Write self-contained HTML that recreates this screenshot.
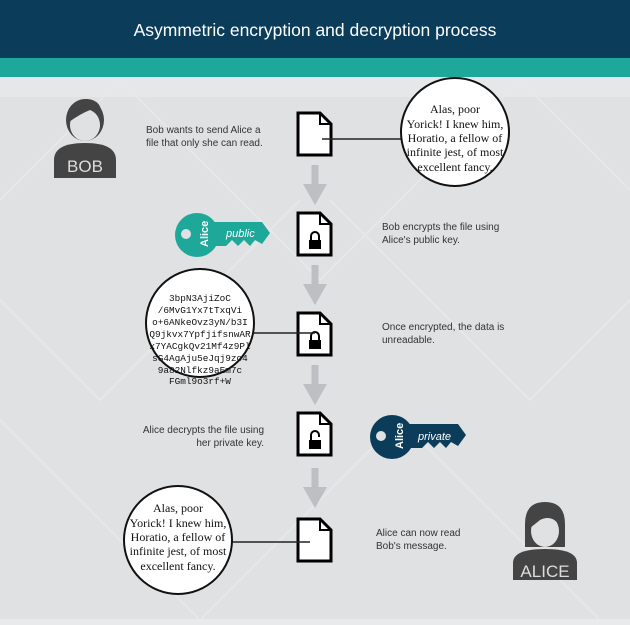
<!DOCTYPE html>
<html><head><meta charset="utf-8"><style>
html,body{margin:0;padding:0;width:630px;height:625px;overflow:hidden;background:#dfe1e3}
svg{display:block}
text{font-family:"Liberation Sans",sans-serif}
.s text{font-family:"Liberation Serif",serif;font-size:12px;fill:#111}
.m text{font-family:"Liberation Mono",monospace;font-size:9.4px;fill:#111}
.t{font-size:10px;fill:#333}
</style></head><body>
<svg width="630" height="625" viewBox="0 0 630 625" xmlns="http://www.w3.org/2000/svg">
<defs>
<g id="file"><path d="M0,0 H22 L33,11 V42 H0 Z" fill="#fff" stroke="#000" stroke-width="3"/><path d="M22,0 V11 H33" fill="none" stroke="#000" stroke-width="2"/></g>
<g id="arrow"><rect x="-3.5" y="0" width="7" height="22" fill="#bdbfc3"/><path d="M-12,19 H12 L0,40 Z" fill="#bdbfc3"/></g>
<g id="lock"><path d="M-4,0 V-4 A4,4 0 0 1 4,-4 V0" fill="none" stroke="#000" stroke-width="2"/><rect x="-6" y="0" width="12" height="9" fill="#000"/></g>
<g id="ulock"><path d="M-4,0 V-5 A4,4 0 0 1 4,-5 V-3" fill="none" stroke="#000" stroke-width="2"/><rect x="-6" y="0" width="12" height="9" fill="#000"/></g>
</defs>
<rect x="0" y="0" width="630" height="58" fill="#0b3d5a"/>
<rect x="0" y="58" width="630" height="19" fill="#1ea89a"/>
<text x="315" y="36" text-anchor="middle" font-size="17.5" fill="#fff">Asymmetric encryption and decryption process</text>
<rect x="0" y="77" width="630" height="20" fill="#e5e7e8"/>
<rect x="0" y="619" width="630" height="6" fill="#e8eaeb"/>
<g stroke="#e7e9ea" stroke-width="2" fill="none" opacity=".8">
<path d="M0,200 L120,80 L320,280 L520,80 L630,190"/><path d="M0,300 L100,400 L300,200"/><path d="M330,200 L530,400 L630,300"/><path d="M0,420 L200,620 L400,420 L600,620"/>
</g>
<!-- Bob -->
<g fill="#444">
<ellipse cx="85" cy="120" rx="19" ry="21"/>
<path d="M54,178 V160 Q54,143 85,143 Q116,143 116,160 V178 Z"/>
</g>
<ellipse cx="85" cy="125" rx="15" ry="16" fill="#dfe1e3"/>
<path d="M69,122 Q68,100 87,99 Q104,100 101,120 Q98,112 90,110 Q80,114 69,122 Z" fill="#444"/>
<text x="85" y="172" text-anchor="middle" font-size="17" fill="#ddd">BOB</text>
<text x="146" y="133" class="t">Bob wants to send Alice a</text>
<text x="146" y="146" class="t">file that only she can read.</text>
<!-- files -->
<use href="#file" x="298" y="113"/>
<use href="#arrow" x="315" y="165"/>
<use href="#file" x="298" y="213"/>
<use href="#lock" x="315" y="240"/>
<use href="#arrow" x="315" y="265"/>
<use href="#file" x="298" y="313"/>
<use href="#lock" x="315" y="340"/>
<use href="#arrow" x="315" y="365"/>
<use href="#file" x="298" y="413"/>
<use href="#ulock" x="315" y="440"/>
<use href="#arrow" x="315" y="468"/>
<use href="#file" x="298" y="519"/>
<!-- circle 1 -->
<line x1="322" y1="139" x2="402" y2="139" stroke="#222" stroke-width="1.5"/>
<circle cx="455" cy="132" r="54" fill="#fff" stroke="#111" stroke-width="2"/>
<g class="s" text-anchor="middle"><text x="455" y="113">Alas, poor</text><text x="455" y="128">Yorick! I knew him,</text><text x="455" y="142">Horatio, a fellow of</text><text x="455" y="156">infinite jest, of most</text><text x="455" y="171">excellent fancy.</text></g>
<!-- public key -->
<g fill="#1ea89a">
<circle cx="197" cy="235" r="22"/>
<path d="M210,222 H262 L270,233 L262,244 L255,240 L250,246 L244,240 L238,246 L232,240 L226,246 L210,246 Z"/>
</g>
<circle cx="186" cy="234" r="5" fill="#dfe1e3"/>
<text transform="translate(208,247) rotate(-90)" font-size="11" fill="#fff" font-weight="bold">Alice</text>
<text x="226" y="237" font-size="11" font-style="italic" fill="#fff">public</text>
<text x="382" y="230" class="t">Bob encrypts the file using</text>
<text x="382" y="243" class="t">Alice's public key.</text>
<!-- circle 2 -->
<line x1="250" y1="333" x2="315" y2="333" stroke="#222" stroke-width="1.5"/>
<circle cx="200" cy="323" r="54" fill="#fff" stroke="#111" stroke-width="2"/>
<g class="m" text-anchor="middle"><text x="200" y="301">3bpN3AjiZoC</text><text x="200" y="313">/6MvG1Yx7tTxqVi</text><text x="200" y="325">o+6ANkeOvz3yN/b3I</text><text x="200" y="337">Q9jkvx7YpfjifsnwAR</text><text x="200" y="349">x7YACgkQv21Mf4z9Pl</text><text x="200" y="361">sG4AgAju5eJqj9zo4</text><text x="200" y="373">9a82Nlfkz9aEm7c</text><text x="200" y="384">FGml9o3rf+W</text></g>
<text x="382" y="330" class="t">Once encrypted, the data is</text>
<text x="382" y="343" class="t">unreadable.</text>
<!-- private key -->
<text x="264" y="433" class="t" text-anchor="end">Alice decrypts the file using</text>
<text x="264" y="446" class="t" text-anchor="end">her private key.</text>
<g fill="#0b3d5a">
<circle cx="392" cy="437" r="22"/>
<path d="M405,424 H458 L466,435 L458,446 L451,442 L446,448 L440,442 L434,448 L428,442 L422,448 L405,448 Z"/>
</g>
<circle cx="381" cy="436" r="5" fill="#dfe1e3"/>
<text transform="translate(403,449) rotate(-90)" font-size="11" fill="#fff" font-weight="bold">Alice</text>
<text x="418" y="440" font-size="11" font-style="italic" fill="#fff">private</text>
<!-- circle 3 -->
<line x1="228" y1="542" x2="310" y2="542" stroke="#222" stroke-width="1.5"/>
<circle cx="178" cy="540" r="54" fill="#fff" stroke="#111" stroke-width="2"/>
<g class="s" text-anchor="middle"><text x="178" y="512">Alas, poor</text><text x="178" y="527">Yorick! I knew him,</text><text x="178" y="541">Horatio, a fellow of</text><text x="178" y="555">infinite jest, of most</text><text x="178" y="570">excellent fancy.</text></g>
<text x="376" y="536" class="t">Alice can now read</text>
<text x="376" y="549" class="t">Bob's message.</text>
<!-- Alice -->
<g fill="#444">
<path d="M525,547 V524 Q525,502 545,502 Q565,502 565,524 V547 Z"/>
<path d="M513,580 V563 Q513,549 545,549 Q577,549 577,563 V580 Z"/>
</g>
<ellipse cx="545" cy="531" rx="14" ry="16" fill="#dfe1e3"/>
<path d="M530,528 Q530,510 546,509 Q561,510 560,526 Q552,514 540,520 Q535,524 530,528 Z" fill="#444"/>
<text x="545" y="577" text-anchor="middle" font-size="17" fill="#ddd">ALICE</text>
</svg>
</body></html>
